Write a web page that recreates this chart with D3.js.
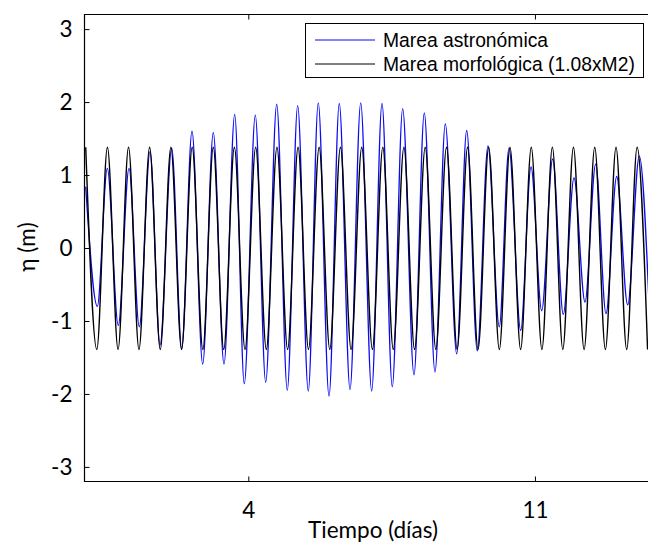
<!DOCTYPE html>
<html><head><meta charset="utf-8">
<script src="https://cdn.jsdelivr.net/npm/d3@7"></script>
<style>body{margin:0;background:#fff}</style></head>
<body>
<svg id="c" width="648" height="543"></svg>
<script>
// ---- data ----
const xTicks = [4, 11];
const yTicks = [-3, -2, -1, 0, 1, 2, 3];
const seriesNames = ["Marea astronómica", "Marea morfológica (1.08xM2)"];

// astronomical tide: high and low water (time in days, eta in m)
const astroPeakT = [0.03,0.557,1.087,1.60,2.13,2.625,3.145,3.668,4.171,4.694,5.206,5.709,6.222,6.745,7.265,7.770,8.298,8.811,9.333,9.853,10.366,10.904,11.433,11.954,12.483,12.996,13.548];
const astroPeakEta = [0.84,1.09,1.09,1.32,1.37,1.60,1.58,1.83,1.82,1.97,1.95,1.99,1.98,1.99,1.98,1.91,1.85,1.70,1.61,1.40,1.37,1.11,1.22,0.96,1.15,0.98,1.26];
const astroTroughT = [0.313,0.825,1.338,1.844,2.374,2.886,3.407,3.902,4.425,4.952,5.465,5.971,6.484,7.013,7.516,8.046,8.559,9.089,9.592,10.129,10.652,11.165,11.692,12.222,12.735,13.265,13.80];
const astroTroughEta = [-0.80,-1.06,-1.08,-1.33,-1.38,-1.59,-1.59,-1.86,-1.84,-1.95,-1.96,-2.03,-1.94,-1.96,-1.90,-1.74,-1.70,-1.45,-1.41,-1.08,-1.13,-0.86,-0.91,-0.74,-0.90,-0.78,-0.95];

// morphological tide (1.08 x M2): high and low water
const morphPeakT = [0.03,0.56,1.075,1.59,2.11,2.63,3.145,3.66,4.18,4.70,5.215,5.73,6.25,6.77,7.285,7.80,8.32,8.84,9.355,9.87,10.39,10.91,11.425,11.94,12.46,12.98,13.495];
const morphPeakEta = [1.38,1.38,1.38,1.38,1.38,1.38,1.38,1.38,1.38,1.38,1.38,1.38,1.38,1.38,1.38,1.38,1.38,1.38,1.38,1.38,1.38,1.38,1.38,1.38,1.38,1.38,1.38];
const morphTroughT = [0.30,0.82,1.33,1.85,2.37,2.89,3.40,3.92,4.44,4.96,5.47,5.99,6.51,7.03,7.54,8.06,8.58,9.10,9.61,10.13,10.65,11.17,11.68,12.20,12.72,13.24,13.75];
const morphTroughEta = [-1.39,-1.39,-1.39,-1.39,-1.39,-1.39,-1.39,-1.39,-1.39,-1.39,-1.39,-1.39,-1.39,-1.39,-1.39,-1.39,-1.39,-1.39,-1.39,-1.39,-1.39,-1.39,-1.39,-1.39,-1.39,-1.39,-1.39];

// ---- build series ----
function merge(pt, pv, tt, tv) {
  const a = pt.map((t, i) => ({t, v: pv[i]})).concat(tt.map((t, i) => ({t, v: tv[i]})));
  return a.sort((p, q) => p.t - q.t);
}
const astro = merge(astroPeakT, astroPeakEta, astroTroughT, astroTroughEta);
const morph = merge(morphPeakT, morphPeakEta, morphTroughT, morphTroughEta);

// ---- layout ----
const m = {left: 84.5, top: 14.5, right: 657.8, bottom: 481.5};
const svg = d3.select("#c");
const x = d3.scaleLinear().domain([0, 14]).range([m.left, m.right]);
const y = d3.scaleLinear().domain([-3.2, 3.2]).range([m.bottom, m.top]);

svg.append("defs").append("clipPath").attr("id", "clip")
  .append("rect").attr("x", m.left).attr("y", m.top)
  .attr("width", m.right - m.left).attr("height", m.bottom - m.top);

const line = d3.line().x(d => x(d.t)).y(d => y(d.v)).curve(d3.curveMonotoneX);
const g = svg.append("g").attr("clip-path", "url(#clip)");
g.append("path").datum(astro).attr("d", line)
  .attr("fill", "none").attr("stroke", "#0a0af5").attr("stroke-width", 1.3);
g.append("path").datum(morph).attr("d", line)
  .attr("fill", "none").attr("stroke", "#000").attr("stroke-width", 1.4);

// ---- axes ----
const tickFont = "Lato, 'Open Sans', sans-serif";
const fs = 22.5;
const ax = svg.append("g").attr("transform", `translate(0,${m.bottom})`)
  .call(d3.axisBottom(x).tickValues(xTicks).tickFormat(d3.format("d")).tickSize(-5).tickPadding(21));
const ay = svg.append("g").attr("transform", `translate(${m.left},0)`)
  .call(d3.axisLeft(y).tickValues(yTicks).tickFormat(d3.format("d")).tickSize(-5).tickPadding(12));
const at = svg.append("g").attr("transform", `translate(0,${m.top})`)
  .call(d3.axisTop(x).tickValues(xTicks).tickFormat("").tickSize(-5));
[ax, ay, at].forEach(a => {
  a.select(".domain").remove();
  a.selectAll("line").attr("stroke", "#000").attr("stroke-width", 1);
  a.selectAll("text").attr("font-family", tickFont).attr("font-size", fs).attr("fill", "#000");
});
ay.selectAll("text").text(d => d < 0 ? "-" + Math.abs(d) : d);

// frame (left, bottom, top)
svg.append("path")
  .attr("d", `M${m.right},${m.top}H${m.left}V${m.bottom}H${m.right}`)
  .attr("fill", "none").attr("stroke", "#000").attr("stroke-width", 1.2);

// axis titles
svg.append("text").attr("x", 373).attr("y", 538).attr("text-anchor", "middle")
  .attr("font-family", tickFont).attr("font-size", fs).text("Tiempo (días)");
svg.append("text").attr("transform", "translate(35,247) rotate(-90)")
  .attr("text-anchor", "middle").attr("font-family", tickFont).attr("font-size", fs).text("η (m)");

// ---- legend ----
const lg = svg.append("g");
lg.append("rect").attr("x", 305.5).attr("y", 23.5).attr("width", 338).attr("height", 54)
  .attr("fill", "#fff").attr("stroke", "#000").attr("stroke-width", 1);
const legColors = ["#0a0af5", "#000"];
seriesNames.forEach((s, i) => {
  const yy = 40 + i * 24;
  lg.append("line").attr("x1", 315).attr("x2", 375).attr("y1", yy).attr("y2", yy)
    .attr("stroke", legColors[i]).attr("stroke-width", 1);
  lg.append("text").attr("x", 383).attr("y", yy).attr("dy", "0.35em")
    .attr("font-family", "'Liberation Sans', Arial, sans-serif").attr("font-size", 19.3).text(s);
});
</script>
</body></html>
